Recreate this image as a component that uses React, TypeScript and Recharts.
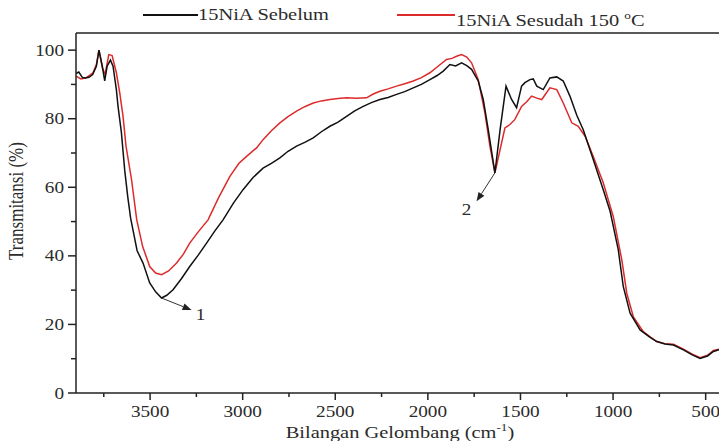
import { LineChart, Line, XAxis, YAxis, ReferenceLine } from 'recharts';

// ---- data ----
const WN_TICKS = [3750, 3500, 3250, 3000, 2750, 2500, 2250, 2000, 1750, 1500, 1250, 1000, 750, 500];
const T_TICKS = [0, 10, 20, 30, 40, 50, 60, 70, 80, 90, 100];

const sebelumWn = [
  3900, 3885, 3865, 3850, 3830, 3810, 3790, 3776, 3758, 3745, 3732, 3714, 3700, 3682, 3673, 3655, 3637, 3620,
  3605, 3570, 3538, 3502, 3470, 3438, 3410, 3376, 3330, 3286, 3240, 3195, 3150, 3106, 3050, 2998, 2945, 2890,
  2845, 2799, 2755, 2709, 2665, 2619, 2575, 2529, 2485, 2439, 2395, 2349, 2305, 2259, 2215, 2169, 2125, 2079,
  2035, 1989, 1950, 1917, 1881, 1850, 1818, 1790, 1764, 1728, 1701, 1674, 1638, 1610, 1578, 1548, 1521, 1494,
  1476, 1449, 1431, 1412, 1377, 1341, 1304, 1269, 1233, 1196, 1161, 1107, 1053, 1016, 972, 945, 908, 854, 800,
  764, 720, 674, 620, 575, 530, 490, 458, 428,
];
const sebelumT = [
  93.2, 93.6, 92.0, 91.9, 92.1, 92.9, 95.3, 100.0, 95.3, 91.0, 95.3, 97.1, 95.3, 88.5, 83.6, 76.0, 65.0, 57.0,
  51.0, 41.5, 37.9, 32.1, 29.5, 27.7, 28.5, 30.1, 33.4, 36.9, 40.2, 43.7, 47.3, 50.5, 55.4, 59.3, 62.8, 65.6,
  67.0, 68.6, 70.5, 72.0, 73.1, 74.4, 76.2, 77.8, 79.0, 80.7, 82.3, 83.6, 84.7, 85.6, 86.2, 87.1, 87.9, 89.0,
  90.0, 91.4, 92.6, 93.9, 95.8, 95.4, 96.3, 95.5, 94.4, 91.0, 85.6, 76.8, 64.2, 76.8, 89.5, 85.6, 83.2, 89.5,
  90.5, 91.4, 91.6, 89.5, 88.5, 91.9, 92.2, 91.0, 86.6, 81.0, 76.8, 68.1, 59.3, 53.0, 41.8, 31.1, 23.3, 18.4, 16.2,
  15.0, 14.3, 14.0, 12.6, 11.2, 10.1, 10.8, 12.1, 12.6,
];

const sesudahWn = [
  3900, 3873, 3846, 3808, 3790, 3776, 3757, 3743, 3723, 3705, 3682, 3664, 3646, 3630, 3600, 3572, 3540, 3502,
  3470, 3438, 3400, 3357, 3320, 3286, 3240, 3187, 3130, 3069, 3020, 2979, 2925, 2890, 2845, 2799, 2755, 2709,
  2665, 2619, 2575, 2529, 2485, 2439, 2385, 2331, 2295, 2259, 2215, 2169, 2125, 2079, 2035, 1989, 1945, 1899,
  1870, 1845, 1818, 1790, 1764, 1728, 1692, 1665, 1638, 1610, 1584, 1557, 1530, 1494, 1465, 1440, 1412, 1385,
  1341, 1304, 1269, 1223, 1188, 1151, 1107, 1053, 999, 953, 926, 891, 837, 800, 764, 720, 674, 620, 575, 530,
  490, 458, 428,
];
const sesudahT = [
  92.4, 91.6, 91.9, 93.4, 95.8, 100.0, 94.8, 92.9, 98.7, 98.4, 93.4, 87.6, 80.7, 72.0, 62.2, 50.5, 42.7, 36.9,
  35.0, 34.5, 35.6, 37.9, 40.5, 43.7, 47.0, 50.5, 57.0, 63.2, 67.0, 69.0, 71.5, 73.9, 76.5, 78.8, 80.6, 82.2,
  83.5, 84.6, 85.2, 85.6, 85.9, 86.1, 86.0, 86.1, 87.2, 88.0, 88.7, 89.5, 90.2, 91.0, 92.0, 93.4, 95.3, 97.3,
  97.6, 98.2, 98.7, 98.0, 96.3, 91.4, 81.7, 72.0, 64.2, 71.0, 77.3, 78.3, 79.8, 83.6, 85.0, 86.6, 86.0, 85.6,
  89.0, 88.5, 84.6, 78.8, 77.8, 74.9, 69.0, 61.3, 51.5, 38.9, 29.1, 22.3, 17.9, 16.4, 15.0, 14.4, 14.2, 12.8, 11.4, 10.3,
  11.0, 12.4, 12.8,
];

const sebelum = sebelumWn.map((wn, i) => ({ wn, t: sebelumT[i] }));
const sesudah = sesudahWn.map((wn, i) => ({ wn, t: sesudahT[i] }));

const FONT = '"Liberation Serif", "Times New Roman", serif';
const INK = '#2b2b2b';
const STRETCH = 1.2;

const XTick = (props: any) => {
  const { x, y, payload } = props;
  const major = payload.value % 500 === 0;
  return (
    <g>
      <line x1={x} y1={y} x2={x} y2={y + (major ? 7 : 4)} stroke="#222" strokeWidth={1.5} />
      {major && (
        <text
          transform={`translate(${x},${y + 24}) scale(${STRETCH},1)`}
          textAnchor="middle"
          fontFamily={FONT}
          fontSize={16}
          fill={INK}
        >
          {payload.value}
        </text>
      )}
    </g>
  );
};

const YTick = (props: any) => {
  const { x, y, payload } = props;
  const major = payload.value % 20 === 0;
  return (
    <g>
      <line x1={x} y1={y} x2={x - (major ? 8 : 5)} y2={y} stroke="#222" strokeWidth={1.5} />
      {major && (
        <text
          transform={`translate(${x - 12},${y}) scale(${STRETCH},1)`}
          textAnchor="end"
          dy="0.35em"
          fontFamily={FONT}
          fontSize={16}
          fill={INK}
        >
          {payload.value}
        </text>
      )}
    </g>
  );
};

// arrow pointing from a band minimum to its number
const arrow = (num: string, dx: number, dy: number) => (props: any) => {
  const { x1, y1, x2, y2 } = props;
  const ang = Math.atan2(y2 - y1, x2 - x1);
  const L = 9;
  const W = 3.5;
  const bx = x2 - L * Math.cos(ang);
  const by = y2 - L * Math.sin(ang);
  const px = -Math.sin(ang) * W;
  const py = Math.cos(ang) * W;
  return (
    <g>
      <line x1={x1} y1={y1} x2={bx} y2={by} stroke="#333" strokeWidth={1} />
      <polygon points={`${x2},${y2} ${bx + px},${by + py} ${bx - px},${by - py}`} fill="#222" />
      <text
        transform={`translate(${x2 + dx},${y2 + dy}) scale(${STRETCH},1)`}
        textAnchor="middle"
        dy="0.35em"
        fontFamily={FONT}
        fontSize={16}
        fill={INK}
      >
        {num}
      </text>
    </g>
  );
};

const legendText: any = {
  display: 'inline-block',
  transform: `scaleX(${STRETCH})`,
  transformOrigin: 'left center',
  fontFamily: FONT,
  fontSize: 17,
  color: INK,
  whiteSpace: 'nowrap',
};

export default function App() {
  return (
    <div style={{ position: 'absolute', left: 0, top: 0, width: 719, height: 441, background: '#fff', overflow: 'hidden' }}>
      {/* legend */}
      <div style={{ position: 'absolute', left: 143, top: 14, width: 55, height: 2, background: '#111' }} />
      <div style={{ position: 'absolute', left: 198, top: 4, lineHeight: '22px' }}>
        <span style={legendText}>15NiA Sebelum</span>
      </div>
      <div style={{ position: 'absolute', left: 397, top: 14, width: 58, height: 2, background: '#dd2a2a' }} />
      <div style={{ position: 'absolute', left: 456, top: 4, lineHeight: '22px' }}>
        <span style={legendText}>
          15NiA Sesudah 150 <sup style={{ fontSize: 11 }}>o</sup>C
        </span>
      </div>

      <LineChart width={719} height={441} margin={{ top: 33, right: 0, left: 0, bottom: 0 }}>
        <XAxis
          type="number"
          dataKey="wn"
          domain={[428, 3900]}
          reversed
          allowDataOverflow
          ticks={WN_TICKS}
          interval={0}
          tick={<XTick />}
          tickLine={false}
          tickSize={0}
          tickMargin={0}
          height={48}
          axisLine={{ stroke: '#222', strokeWidth: 1.5 }}
        />
        <YAxis
          type="number"
          dataKey="t"
          domain={[0, 105]}
          allowDataOverflow
          ticks={T_TICKS}
          interval={0}
          tick={<YTick />}
          tickLine={false}
          tickSize={0}
          tickMargin={0}
          width={76}
          axisLine={{ stroke: '#222', strokeWidth: 1.5 }}
        />
        <ReferenceLine y={105} stroke="#222" strokeWidth={1.5} />
        <Line
          data={sesudah}
          dataKey="t"
          type="linear"
          stroke="#dd2a2a"
          strokeWidth={1.5}
          dot={false}
          isAnimationActive={false}
        />
        <Line
          data={sebelum}
          dataKey="t"
          type="linear"
          stroke="#111"
          strokeWidth={1.5}
          dot={false}
          isAnimationActive={false}
        />
        <ReferenceLine
          segment={[{ x: 3438, y: 27.7 }, { x: 3276, y: 24.2 }]}
          shape={arrow('1', 9, 4)}
        />
        <ReferenceLine
          segment={[{ x: 1638, y: 64.2 }, { x: 1737, y: 55.9 }]}
          shape={arrow('2', -10, 8)}
        />
      </LineChart>

      {/* axis titles */}
      <div
        style={{
          position: 'absolute',
          left: 400,
          top: 432,
          transform: `translate(-50%, -50%) scaleX(${STRETCH})`,
          fontFamily: FONT,
          fontSize: 17,
          color: INK,
          whiteSpace: 'nowrap',
        }}
      >
        Bilangan Gelombang (cm<sup style={{ fontSize: 11 }}>-1</sup>)
      </div>
      <div
        style={{
          position: 'absolute',
          left: 17,
          top: 201,
          transform: 'translate(-50%, -50%) rotate(-90deg) scaleY(1.2)',
          fontFamily: FONT,
          fontSize: 17,
          color: INK,
          whiteSpace: 'nowrap',
        }}
      >
        Transmitansi (%)
      </div>
    </div>
  );
}
